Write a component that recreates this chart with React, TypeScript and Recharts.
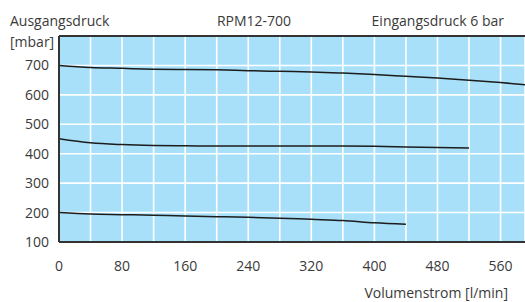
import React from 'react';
import {
  LineChart,
  Line,
  XAxis,
  YAxis,
  CartesianGrid,
  ReferenceLine,
} from 'recharts';

// Volumenstrom [l/min] sample points per curve
const flowTop = [0, 40, 80, 120, 160, 200, 240, 280, 320, 360, 400, 440, 480, 520, 560, 600];
const pressureTop = [700, 693, 690, 687, 686, 685, 682, 680, 678, 674, 669, 663, 657, 650, 642, 632];

const flowMid = [0, 40, 80, 120, 160, 200, 240, 280, 320, 360, 400, 440, 480, 520];
const pressureMid = [451, 437, 431, 428, 427, 426, 426, 426, 426, 426, 425, 423, 421, 419];

const flowLow = [0, 40, 80, 120, 160, 200, 240, 280, 320, 360, 400, 440];
const pressureLow = [200, 195, 193, 191, 188, 186, 184, 181, 177, 173, 165, 160];

const xTicks = [0, 40, 80, 120, 160, 200, 240, 280, 320, 360, 400, 440, 480, 520, 560];
const yTicks = [100, 200, 300, 400, 500, 600, 700, 800];

const toRows = (xs: number[], ys: number[]) => xs.map((q, i) => ({ q, p: ys[i] }));

const FONT = '"Open Sans", sans-serif';
const TEXT = '#3a3a3a';

export default function App() {
  return (
    <div style={{ position: 'absolute', left: 0, top: 0, width: 525, height: 302, background: '#fff' }}>
      <LineChart
        width={525}
        height={302}
        margin={{ top: 36, right: 0, bottom: 0, left: 0 }}
        style={{ fontFamily: FONT }}
      >
        <CartesianGrid fill="#a8e0fa" stroke="#ffffff" strokeWidth={1.6} strokeOpacity={1} />
        <XAxis
          type="number"
          dataKey="q"
          domain={[0, 591]}
          allowDataOverflow
          ticks={xTicks}
          interval={0}
          tickFormatter={(v: number) => (v % 80 === 0 ? String(v) : '')}
          tickLine={false}
          tickSize={6}
          tickMargin={13}
          height={60}
          axisLine={{ stroke: '#333', strokeWidth: 2 }}
          tick={{ fill: TEXT, fontSize: 14 }}
        />
        <YAxis
          type="number"
          domain={[100, 800]}
          ticks={yTicks}
          interval={0}
          tickFormatter={(v: number) => (v === 800 ? '' : String(v))}
          tickLine={false}
          tickSize={6}
          tickMargin={4}
          width={59}
          axisLine={{ stroke: '#333', strokeWidth: 2 }}
          tick={{ fill: TEXT, fontSize: 14 }}
        />
        <ReferenceLine y={800} stroke="#333" strokeWidth={2} />
        <Line
          data={toRows(flowTop, pressureTop)}
          dataKey="p"
          type="monotone"
          stroke="#1c1c1c"
          strokeWidth={1.5}
          dot={false}
          isAnimationActive={false}
        />
        <Line
          data={toRows(flowMid, pressureMid)}
          dataKey="p"
          type="monotone"
          stroke="#1c1c1c"
          strokeWidth={1.5}
          dot={false}
          isAnimationActive={false}
        />
        <Line
          data={toRows(flowLow, pressureLow)}
          dataKey="p"
          type="monotone"
          stroke="#1c1c1c"
          strokeWidth={1.5}
          dot={false}
          isAnimationActive={false}
        />
      </LineChart>
      {/* titles and axis captions */}
      <svg
        width={525}
        height={302}
        style={{ position: 'absolute', left: 0, top: 0, pointerEvents: 'none' }}
        fontFamily={FONT}
        fontSize={14}
        fill={TEXT}
      >
        <text x={10} y={26}>Ausgangsdruck</text>
        <text x={10} y={47}>[mbar]</text>
        <text x={254} y={26} textAnchor="middle">RPM12-700</text>
        <text x={504} y={26} textAnchor="end">Eingangsdruck 6 bar</text>
        <text x={508} y={298} textAnchor="end">Volumenstrom [l/min]</text>
      </svg>
    </div>
  );
}
